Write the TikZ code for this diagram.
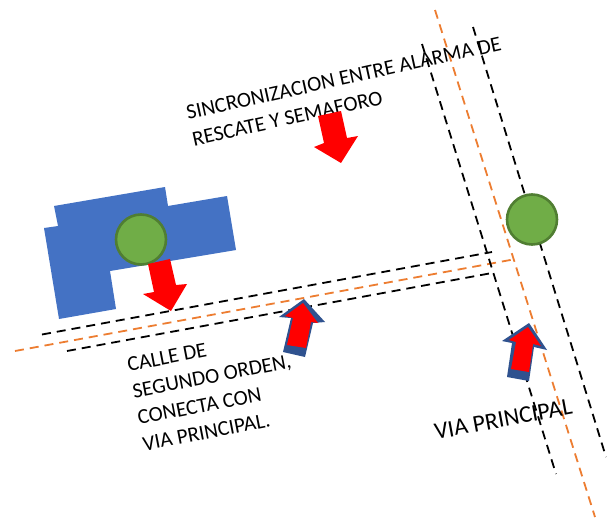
\documentclass[tikz,border=0pt]{standalone}
\usepackage{fontspec}
\setmainfont{Carlito}
\definecolor{bldg}{HTML}{4472C4}
\definecolor{grn}{HTML}{70AD47}
\definecolor{grnd}{HTML}{507E32}
\definecolor{orng}{HTML}{ED7D31}
\definecolor{arrowblue}{HTML}{2F528F}
\tikzset{
  blackdash/.style={draw=black,line width=1.8pt,dash pattern=on 9pt off 6pt},
  orangedash/.style={draw=orng,line width=1.8pt,dash pattern=on 9pt off 6pt},
  signal/.style={circle,draw=grnd,fill=grn,line width=2.6pt,minimum size=50pt,inner sep=0pt},
  redarrow/.style={fill=red,draw=none},
  bluearrow/.style={fill=arrowblue,draw=none},
  label/.style={inner sep=0pt,text=black,font=\fontsize{21.3}{27}\selectfont,align=left},
}
\begin{document}
\begin{tikzpicture}[x=1pt,y=-1pt]
\useasboundingbox (0,0) rectangle (609,519);
\fill[white] (0,0) rectangle (609,519);
% road coordinates
\coordinate (ru1) at (42,334.5);
\coordinate (ru2) at (492,252);
\coordinate (rm1) at (15,351);
\coordinate (rm2) at (513,259.5);
\coordinate (rl1) at (67,351);
\coordinate (rl2) at (492,273);
\coordinate (vl1) at (422,44);
\coordinate (vl2) at (556,474);
\coordinate (vm1) at (435,10);
\coordinate (vm2) at (595,517);
\coordinate (vr1) at (473,27);
\coordinate (vr2) at (606,457);
\draw[blackdash] (ru1) -- (ru2);
\draw[orangedash] (rm1) -- (rm2);
\draw[blackdash] (rl1) -- (rl2);
\draw[blackdash] (vl1) -- (vl2);
\draw[orangedash] (vm1) -- (vm2);
\draw[blackdash] (vr1) -- (vr2);
% building
\fill[bldg] (54,206) -- (165,187) -- (168,206) -- (227,196) -- (236,250) -- (110,271)
  -- (116,309) -- (59,319) -- (44,228) -- (58,226) -- cycle;
% signals
\node[signal] (s1) at (141,239.5) {};
\node[signal] (s2) at (532,219.5) {};
% texts
\node[label,rotate=12.5,anchor=north west] (t1) at (185,106)
  {SINCRONIZACION ENTRE ALARMA DE\\RESCATE Y SEMAFORO};
\node[label,rotate=11,anchor=north west] (t2) at (126,358)
  {CALLE DE\\SEGUNDO ORDEN,\\CONECTA CON\\VIA PRINCIPAL.};
\node[label,rotate=10.5,anchor=north west,font=\fontsize{24}{27}\selectfont] (t3) at (433,424) {VIA PRINCIPAL};
% red arrows
\fill[redarrow] (318,116) -- (341,111) -- (347,138) -- (358,136) -- (341,163) -- (314,147) -- (324,143) -- cycle;
\fill[redarrow] (148,264) -- (170,259) -- (176,285) -- (187,284) -- (171,311) -- (143,294) -- (154,292) -- cycle;
% outlined arrows
\fill[bluearrow] (304,299) -- (279,317) -- (291,318) -- (283,352) -- (305,357) -- (313,323) -- (325,322) -- cycle;
\fill[redarrow] (303,303) -- (285,316) -- (293,318) -- (287,345) -- (306,348) -- (311,322) -- (318,323) -- cycle;
\fill[bluearrow] (529,323) -- (502,341) -- (512,343) -- (507,377) -- (529,381) -- (534,347) -- (547,350) -- cycle;
\fill[redarrow] (528,327) -- (509,340) -- (516,342) -- (511,369) -- (529,372) -- (533,344) -- (541,346) -- cycle;
\end{tikzpicture}
\end{document}
